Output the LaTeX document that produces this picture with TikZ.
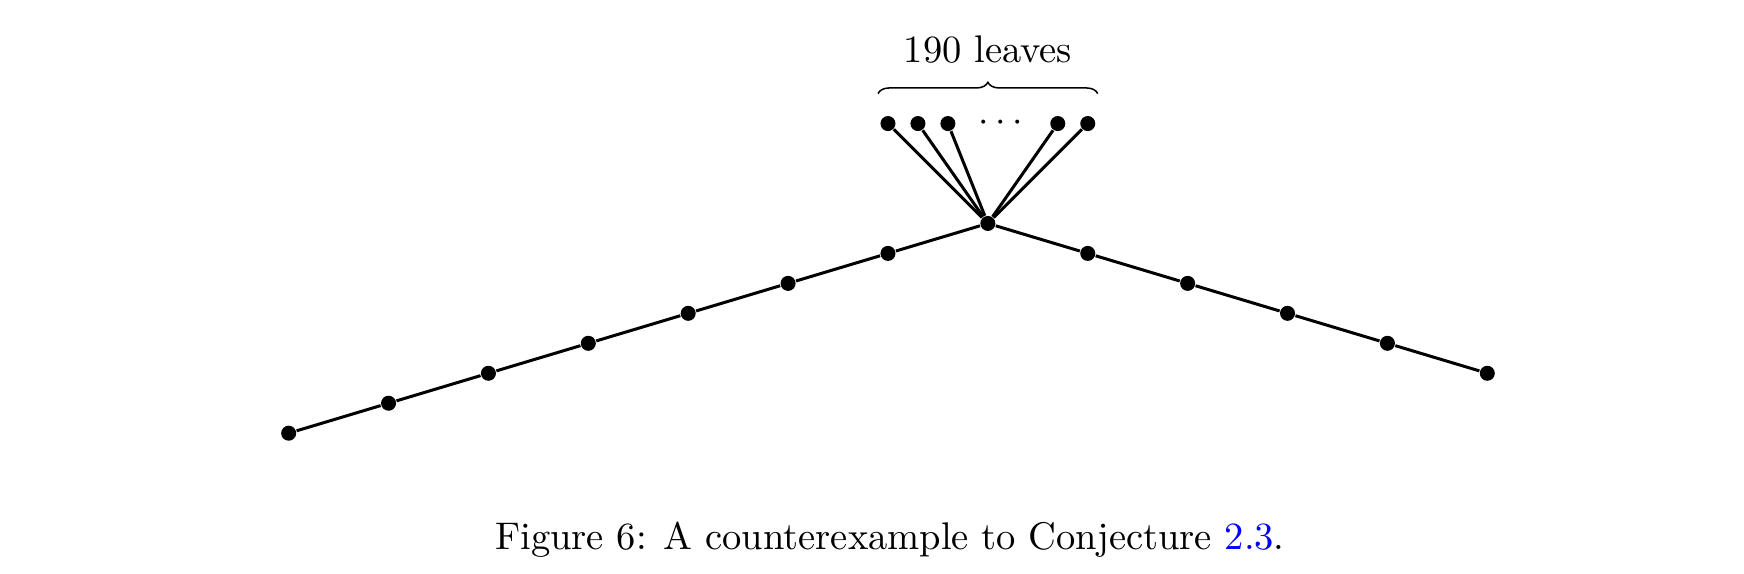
\documentclass[tikz,border=0pt]{standalone}
\usepackage{xcolor}
\usepackage{amsmath,amssymb}
\usetikzlibrary{decorations.pathreplacing}
\tikzset{
  vtx/.style={circle, fill=black, inner sep=0pt, minimum size=4pt},
  edge/.style={thick},
  txt/.style={font=\fontsize{10.25}{12.3}\selectfont},
}

\begin{document}
\begin{tikzpicture}[x=26.58pt, y=26.58pt]
        \useasboundingbox (-9.89,-3.508) rectangle (7.57,2.237);
        % Vertices of the long path, centre at the origin
        \node[vtx] (c) at (0,0) {};
        \node[vtx] (l1) at (-1,-0.3) {};
        \node[vtx] (l2) at (-2,-0.6) {};
        \node[vtx] (l3) at (-3,-0.9) {};
        \node[vtx] (l4) at (-4,-1.2) {};
        \node[vtx] (l5) at (-5,-1.5) {};
        \node[vtx] (l6) at (-6,-1.8) {};
        \node[vtx] (l7) at (-7,-2.1) {};
        \node[vtx] (r1) at (1,-0.3) {};
        \node[vtx] (r2) at (2,-0.6) {};
        \node[vtx] (r3) at (3,-0.9) {};
        \node[vtx] (r4) at (4,-1.2) {};
        \node[vtx] (r5) at (5,-1.5) {};
        % The leaves above the centre
        \node[vtx] (a1) at (-1,1) {};
        \node[vtx] (a2) at (-0.7,1) {};
        \node[vtx] (a3) at (-0.4,1) {};
        \node[txt] (dots) at (0.16,1) {$\cdots$};
        \node[vtx] (a4) at (0.7,1) {};
        \node[vtx] (a5) at (1,1) {};
        % Draw the edges
        \draw[edge] (l7) -- (l6) -- (l5) -- (l4) -- (l3) -- (l2) -- (l1) -- (c);
        \draw[edge] (c) -- (r1) -- (r2) -- (r3) -- (r4) -- (r5);
        \draw[edge] (c) -- (a1);
        \draw[edge] (c) -- (a2);
        \draw[edge] (c) -- (a3);
        \draw[edge] (c) -- (a4);
        \draw[edge] (c) -- (a5);
        % Brace over the leaves
        \coordinate (bl) at (-1.1,1.3);
        \coordinate (br) at (1.1,1.3);
        \draw[decorate, decoration={brace, amplitude=3pt}] (bl) -- (br);
        \node[txt] (lbl) at (0,1.74) {190 leaves};
        % Caption
        \node[txt] (cap) at (-0.98,-3.162) {Figure 6: A counterexample to Conjecture \textcolor{blue}{2.3}.};
    \end{tikzpicture}
\end{document}
